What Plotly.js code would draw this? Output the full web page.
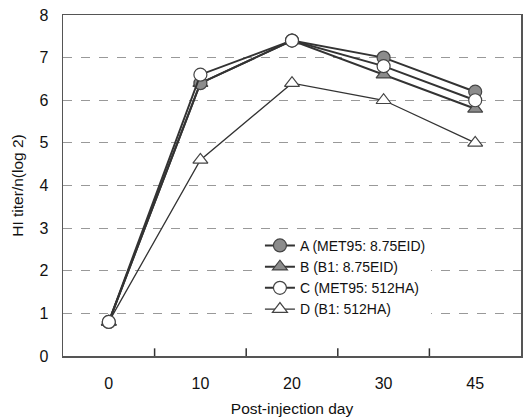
<!DOCTYPE html>
<html><head><meta charset="utf-8">
<script src="https://cdn.plot.ly/plotly-3.0.1.min.js"></script>
<style>html,body{margin:0;padding:0;background:#fff}#chart{width:528px;height:419px}</style>
</head><body><div id="chart"></div>
<script>
const days = ["0", "10", "20", "30", "45"];
const seriesA = [0.8, 6.4, 7.4, 7.0, 6.2];
const seriesB = [0.8, 6.4, 7.4, 6.6, 5.8];
const seriesC = [0.8, 6.6, 7.4, 6.8, 6.0];
const seriesD = [0.8, 4.6, 6.4, 6.0, 5.0];
const names = ["A (MET95: 8.75EID)", "B (B1: 8.75EID)", "C (MET95: 512HA)", "D (B1: 512HA)"];

const pos = days.map((d, i) => i);
const bounds = pos.slice(1).map(p => p - 0.5);
const lineCol = "#333333";
function tr(y, name, symbol, fill, lw) {
  return {x: pos, y: y, name: name, type: "scatter", mode: "lines+markers",
    line: {color: lineCol, width: lw},
    marker: {symbol: symbol, size: 13, color: fill, line: {color: "#444", width: 1.2}}};
}
// inside tick marks at category boundaries, drawn as a helper line trace
const tickX = [], tickY = [];
bounds.forEach(b => { tickX.push(b, b, null); tickY.push(0, 0.18, null); });
const data = [
  {x: tickX, y: tickY, type: "scatter", mode: "lines", line: {color: "#333", width: 1.5},
   showlegend: false, hoverinfo: "skip", connectgaps: false, cliponaxis: false},
  tr(seriesD, names[3], "triangle-up", "#ffffff", 1.3),
  tr(seriesB, names[1], "triangle-up", "#8c8c8c", 2),
  tr(seriesA, names[0], "circle", "#8c8c8c", 2),
  tr(seriesC, names[2], "circle", "#ffffff", 2)
];
data[3].legendrank = 1; data[2].legendrank = 2; data[4].legendrank = 3; data[1].legendrank = 4;

const layout = {
  width: 528, height: 419,
  margin: {l: 63, r: 7, t: 15, b: 63},
  paper_bgcolor: "#fff", plot_bgcolor: "#fff",
  font: {family: "Liberation Sans, Arial, sans-serif", color: "#111", size: 16},
  showlegend: true,
  legend: {x: 0.43, y: 0.37, xanchor: "left", yanchor: "top", bgcolor: "#fff",
    font: {size: 14}, tracegroupgap: 0, itemwidth: 30, traceorder: "normal"},
  xaxis: {type: "linear", range: [-0.5, 4.5], tickmode: "array", tickvals: pos, ticktext: days,
    ticks: "", showgrid: false, showline: true, linecolor: "#555", linewidth: 1.5, mirror: true,
    zeroline: false, tickfont: {size: 16}, ticklabelstandoff: 12,
    title: {text: "Post-injection day", font: {size: 15.5}, standoff: 12}},
  yaxis: {range: [0, 8], dtick: 1, ticks: "", showgrid: true, gridcolor: "#999",
    griddash: "dash", gridwidth: 1, showline: true, linecolor: "#555", linewidth: 1.5,
    mirror: true, zeroline: false, tickfont: {size: 16}, ticklabelstandoff: 10,
    title: {text: "HI titer/n(log 2)", font: {size: 15.5}, standoff: 12}}
};
Plotly.newPlot("chart", data, layout, {staticPlot: true});
</script></body></html>
